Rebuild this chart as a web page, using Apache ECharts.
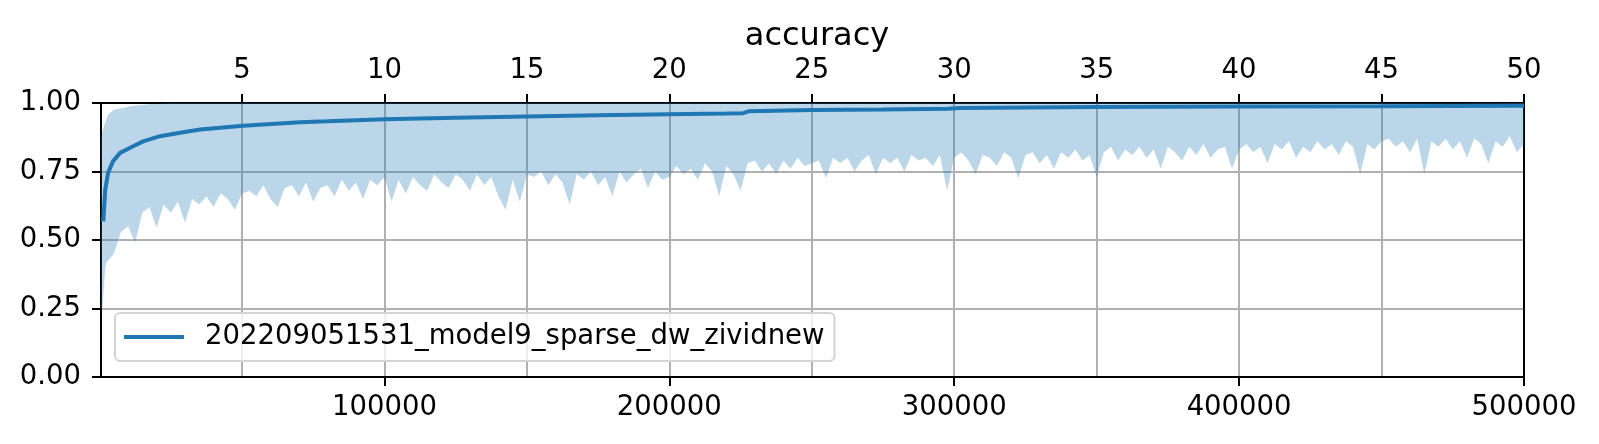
<!DOCTYPE html>
<html>
<head>
<meta charset="utf-8">
<script src="https://cdn.jsdelivr.net/npm/echarts@6/dist/echarts.min.js"></script>
<style>
  html, body { margin: 0; padding: 0; background: #fff; }
  #chart { width: 1599px; height: 444px; }
</style>
</head>
<body>
<div id="chart"></div>
<script>
const seriesName = '202209051531_model9_sparse_dw_zividnew';
const stepTicks = [100000, 200000, 300000, 400000, 500000];
const epochTicks = [5, 10, 15, 20, 25, 30, 35, 40, 45, 50];
const stepsPerEpoch = 10000;
const firstStep = 500;
const lastStep = 500000;

// smoothed accuracy curve (dark line)
const smoothSteps = [1300, 2000, 3000, 4700, 7200, 11800, 15300, 21200, 29300, 35300,
  50400, 70400, 80000, 100000, 125000, 150000, 175000, 200000, 220000, 226000,
  228000, 250000, 275000, 298000, 302000, 350000, 400000, 450000, 500000];
const smoothAcc = [0.568, 0.684, 0.746, 0.787, 0.818, 0.842, 0.86, 0.879, 0.893, 0.903,
  0.917, 0.93, 0.933, 0.941, 0.946, 0.951, 0.955, 0.959, 0.962, 0.963,
  0.970, 0.974, 0.976, 0.979, 0.982, 0.985, 0.987, 0.988, 0.990];

// raw accuracy: top edge of the noisy band
const upperSteps = [500, 1500, 3000, 5000, 8000, 12000, 18000, 25000, 500000];
const upperAcc = [0.874, 0.915, 0.958, 0.975, 0.982, 0.99, 0.996, 1.0, 1.0];

// raw accuracy: bottom edge of the noisy band
const lowerHeadSteps = [500, 1000, 1500, 2000];
const lowerHeadAcc = [0.245, 0.25, 0.33, 0.40];
const lowerStep = 2500; // lowerAcc[i] is at step (i + 1) * 2500
const lowerAcc = [
  0.42, 0.45, 0.53, 0.55, 0.49, 0.60, 0.62, 0.545, 0.63, 0.60,
  0.64, 0.563, 0.65, 0.63, 0.66, 0.62, 0.67, 0.65, 0.61, 0.67,
  0.68, 0.66, 0.70, 0.65, 0.62, 0.69, 0.70, 0.66, 0.71, 0.64,
  0.69, 0.70, 0.66, 0.72, 0.68, 0.71, 0.65, 0.72, 0.70, 0.73,
  0.64, 0.72, 0.67, 0.73, 0.70, 0.68, 0.74, 0.71, 0.69, 0.74,
  0.72, 0.68, 0.74, 0.70, 0.73, 0.66, 0.61, 0.72, 0.64, 0.74,
  0.73, 0.75, 0.70, 0.74, 0.71, 0.63, 0.74, 0.72, 0.75, 0.70,
  0.73, 0.66, 0.75, 0.71, 0.74, 0.76, 0.69, 0.75, 0.72, 0.73,
  0.77, 0.74, 0.76, 0.72, 0.78, 0.75, 0.66, 0.77, 0.74, 0.68,
  0.78, 0.79, 0.75, 0.78, 0.74, 0.79, 0.76, 0.80, 0.77, 0.78,
  0.79, 0.725, 0.80, 0.78, 0.80, 0.75, 0.79, 0.81, 0.74, 0.80,
  0.78, 0.80, 0.75, 0.81, 0.79, 0.80, 0.77, 0.81, 0.68, 0.80,
  0.82, 0.79, 0.74, 0.81, 0.80, 0.77, 0.82, 0.80, 0.725, 0.81,
  0.82, 0.78, 0.81, 0.76, 0.82, 0.80, 0.83, 0.79, 0.81, 0.73,
  0.82, 0.84, 0.79, 0.83, 0.81, 0.84, 0.80, 0.83, 0.76, 0.84,
  0.82, 0.79, 0.84, 0.81, 0.85, 0.80, 0.83, 0.84, 0.76, 0.83,
  0.85, 0.82, 0.84, 0.78, 0.85, 0.83, 0.86, 0.80, 0.84, 0.82,
  0.86, 0.83, 0.85, 0.81, 0.86, 0.84, 0.74, 0.85, 0.83, 0.86,
  0.87, 0.84, 0.86, 0.82, 0.87, 0.74, 0.86, 0.84, 0.87, 0.83,
  0.86, 0.80, 0.87, 0.85, 0.78, 0.86, 0.84, 0.88, 0.82, 0.85
];

const FONT = 'DejaVu Sans';
const BLUE = '#1f77b4';

const upperPts = upperSteps.map((s, i) => [s, upperAcc[i]]);
const lowerPts = lowerHeadSteps.map((s, i) => [s, lowerHeadAcc[i]])
  .concat(lowerAcc.map((v, i) => [(i + 1) * lowerStep, v]));
const smoothPts = smoothSteps.map((s, i) => [s, smoothAcc[i]]);

const chart = echarts.init(document.getElementById('chart'), null, { renderer: 'canvas' });

chart.setOption({
  animation: false,
  title: {
    text: 'accuracy',
    left: 812,
    textAlign: 'center',
    top: 16,
    textStyle: { fontFamily: FONT, fontSize: 32, fontWeight: 'normal', color: '#000' }
  },
  grid: { left: 101, top: 103, width: 1423, height: 274 },
  legend: {
    data: [{ name: seriesName, icon: 'rect' }],
    left: 115,
    top: 313,
    orient: 'vertical',
    itemWidth: 60,
    itemHeight: 4,
    padding: [10, 10, 10, 9],
    backgroundColor: 'rgba(255,255,255,0.8)',
    borderColor: '#d4d4d4',
    borderWidth: 2,
    borderRadius: 5,
    textStyle: { fontFamily: FONT, fontSize: 27.5, color: '#000', padding: [0, 0, 0, 16] }
  },
  xAxis: [
    {
      type: 'value',
      position: 'bottom',
      min: firstStep,
      max: lastStep,
      axisLine: { show: true, onZero: false, lineStyle: { color: '#000', width: 2 } },
      axisTick: { show: true, length: 9, customValues: stepTicks, lineStyle: { color: '#000', width: 2 } },
      axisLabel: { customValues: stepTicks, margin: 17, fontFamily: FONT, fontSize: 27.5, color: '#000',
        formatter: v => String(v) },
      splitLine: { show: false }
    },
    {
      type: 'value',
      position: 'top',
      min: firstStep / stepsPerEpoch,
      max: lastStep / stepsPerEpoch,
      axisLine: { show: true, onZero: false, lineStyle: { color: '#000', width: 2 } },
      axisTick: { show: true, length: 9, customValues: epochTicks, lineStyle: { color: '#000', width: 2 } },
      axisLabel: { customValues: epochTicks, margin: 18, fontFamily: FONT, fontSize: 27.5, color: '#000',
        formatter: v => String(v) },
      splitLine: { show: true, lineStyle: { color: '#b0b0b0', width: 2 } }
    }
  ],
  yAxis: [
    {
      type: 'value',
      min: 0,
      max: 1,
      interval: 0.25,
      axisLine: { show: true, onZero: false, lineStyle: { color: '#000', width: 2 } },
      axisTick: { show: true, length: 9, lineStyle: { color: '#000', width: 2 } },
      axisLabel: { margin: 20, fontFamily: FONT, fontSize: 27.5, color: '#000',
        formatter: v => v.toFixed(2) },
      splitLine: { show: true, lineStyle: { color: '#b0b0b0', width: 2 } }
    },
    {
      type: 'value',
      position: 'right',
      min: 0,
      max: 1,
      axisLine: { show: true, onZero: false, lineStyle: { color: '#000', width: 2 } },
      axisTick: { show: false },
      axisLabel: { show: false },
      splitLine: { show: false }
    }
  ],
  series: [
    {
      type: 'custom',
      name: 'raw',
      xAxisIndex: 0,
      yAxisIndex: 0,
      silent: true,
      z: 2,
      data: [[firstStep, 0]],
      renderItem: (params, api) => {
        const pts = upperPts.map(p => api.coord(p))
          .concat(lowerPts.slice().reverse().map(p => api.coord(p)));
        return {
          type: 'polygon',
          shape: { points: pts },
          style: { fill: 'rgba(31,119,180,0.3)', stroke: null }
        };
      }
    },
    {
      type: 'line',
      name: seriesName,
      xAxisIndex: 0,
      yAxisIndex: 0,
      z: 3,
      data: smoothPts,
      symbol: 'none',
      color: BLUE,
      lineStyle: { color: BLUE, width: 4 }
    }
  ]
});
</script>
</body>
</html>
